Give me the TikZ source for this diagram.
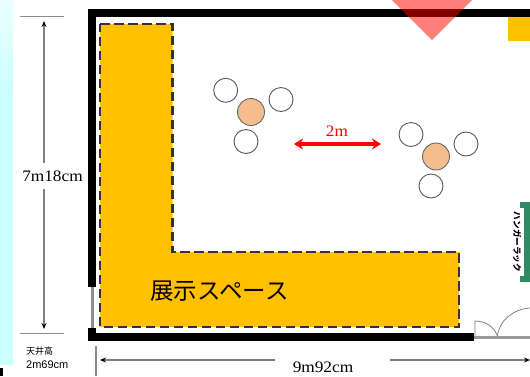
\documentclass[tikz,border=0pt]{standalone}
\usepackage{fontspec}
\setmainfont[FakeStretch=1.08]{Liberation Serif}
\newfontfamily\cjk{Noto Sans CJK JP}
\newfontfamily\sanslat{Liberation Sans}
\usetikzlibrary{arrows.meta}
\definecolor{areaorange}{HTML}{FFC000}
\definecolor{seatorange}{HTML}{F4BE8C}
\definecolor{rackgreen}{HTML}{2E8B62}
\definecolor{dimgrey}{HTML}{7F7F7F}
\definecolor{edgecyan}{HTML}{CCFFFF}
\tikzset{
  x=1pt,y=-1pt,
  wall/.style={fill=black,draw=none},
  dimline/.style={draw=dimgrey,line width=1.1pt},
  dimarrow/.style={dimline,-{Stealth[length=6pt,width=5pt,color=black]}},
  stool/.style={circle,draw=black!65,fill=white,line width=0.9pt,minimum size=24pt,inner sep=0pt},
  seat/.style={circle,draw=black!60,fill=seatorange,line width=0.9pt,minimum size=27pt,inner sep=0pt},
  door/.style={draw=black!55,line width=0.7pt},
  dimtext/.style={fill=white,inner sep=1pt,font=\fontsize{16}{18}\selectfont},
  racktext/.style={rotate=-90,inner sep=0pt,font=\cjk\bfseries\fontsize{8.6}{10}\selectfont}
}
\begin{document}
\begin{tikzpicture}
\useasboundingbox (0,0) rectangle (530,376);
% left edge band
\shade[top color=white!60!edgecyan,bottom color=edgecyan,draw=none] (0,0) rectangle (13,90);
\fill[edgecyan] (0,90) rectangle (13,365);
\fill[black] (0,368) rectangle (3,376);
% exhibition area
\draw[fill=areaorange,draw=black!80,dash pattern=on 9.5pt off 4.5pt,line width=2.5pt]
  (100,24) -- (172.5,24) -- (172.5,252) -- (459,252) -- (459,327) -- (100,327) -- cycle;
% yellow corner
\fill[areaorange] (508,17) rectangle (530,41);
% walls
\fill[wall] (88,9) rectangle (530,17);
\fill[wall] (88,9) rectangle (96,287);
\fill[wall] (88,327.5) rectangle (96,341);
\fill[wall] (88,333) rectangle (474,341);
\fill[black!45] (90.5,287) rectangle (94,328);
% doors
\fill[black!40] (474,335.5) rectangle (530,339);
\draw[door] (475,336) -- (475,321) .. controls (486,321) and (494,327) .. (497.5,336);
\draw[door] (497.5,336) .. controls (499,320) and (514,309) .. (530,308);
% viewpoint
\fill[red,opacity=0.5] (392,0) -- (472,0) -- (432,40) -- cycle;
% seats
\node[stool] (a1) at (225.7,90.3) {};
\node[stool] (a2) at (281,99.5) {};
\node[stool] (a3) at (246,141.5) {};
\node[seat] (a0) at (251,112) {};
\node[stool] (b1) at (411,134.5) {};
\node[stool] (b2) at (466,144) {};
\node[stool] (b3) at (431,186) {};
\node[seat] (b0) at (436,156.5) {};
% 2m
\coordinate (m1) at (294,144);
\coordinate (m2) at (381,144);
\draw[red,line width=3.2pt,{Stealth[length=9pt,width=11pt]}-{Stealth[length=9pt,width=11pt]}] (m1) -- (m2);
\node[red,inner sep=0pt,font=\fontsize{16}{18}\selectfont] (mlabel) at (337,131) {2m};
% rack
\fill[rackgreen] (524,207) rectangle (531,277);
\fill[rackgreen] (520,202) rectangle (531,208);
\fill[rackgreen] (520,276) rectangle (531,282);
\node[racktext] (rack) at (517,242) {ハンガーラック};
% label
\node[inner sep=0pt,font=\cjk\fontsize{23.5}{26}\selectfont] (area) at (219.5,291) {展示スペース};
% height dimension
\draw[dimline,draw=black!45] (20,16.5) -- (64,16.5);
\draw[dimline,draw=black!45] (20,333.5) -- (64,333.5);
\node[dimtext] (h) at (52.5,176) {7m18cm};
\coordinate (ht) at (44,21);
\coordinate (hb) at (44,329);
\draw[dimarrow] (44,163) -- (ht);
\draw[dimarrow] (44,189) -- (hb);
% width dimension
\draw[dimline,draw=black!45] (96,346) -- (96,376);
\node[dimtext] (w) at (323,367) {9m92cm};
\coordinate (wl) at (100,360);
\coordinate (wr) at (530,360);
\draw[dimarrow] (275,360) -- (wl);
\draw[dimarrow] (390,360) -- (wr);
% ceiling
\node[anchor=west,inner sep=0pt,font=\cjk\fontsize{9}{10}\selectfont] (c1) at (26,351) {天井高};
\node[anchor=west,inner sep=0pt,font=\sanslat\fontsize{11}{12}\selectfont] (c2) at (26,365) {2m69cm};
\end{tikzpicture}
\end{document}
